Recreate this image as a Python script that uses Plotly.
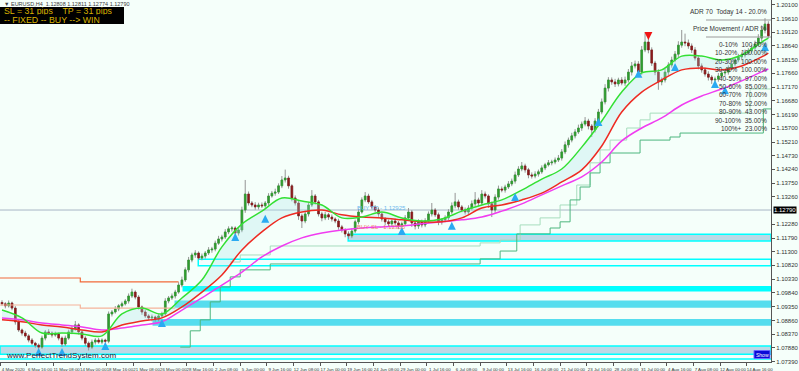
import plotly.graph_objects as go

# ---------------- data ----------------
candle_close = [
    1.0945, 1.0938, 1.0948, 1.0930, 1.0881, 1.0852, 1.0841, 1.0831, 1.0816, 1.0805,
    1.0798, 1.0791, 1.0823, 1.0845, 1.0841, 1.0834, 1.0838, 1.0823, 1.0802, 1.0823,
    1.0845, 1.0856, 1.0870, 1.0845, 1.0823, 1.0805, 1.0791, 1.0809, 1.0816, 1.0809,
    1.0816, 1.0812, 1.0909, 1.0916, 1.0927, 1.0938, 1.0945, 1.0955, 1.0973, 1.0987,
    1.0969, 1.0934, 1.0916, 1.0902, 1.0895, 1.0898, 1.0891, 1.0902, 1.0909, 1.0955,
    1.0966, 1.0973, 1.0987, 1.1012, 1.1030, 1.1066, 1.1101, 1.1119, 1.1126, 1.1108,
    1.1115, 1.1126, 1.1137, 1.1140, 1.1161, 1.1176, 1.1183, 1.1201, 1.1212, 1.1215,
    1.1197, 1.1208, 1.1279, 1.1336, 1.1304, 1.1297, 1.1290, 1.1297, 1.1294, 1.1304,
    1.1329, 1.1339, 1.1343, 1.1365, 1.1386, 1.1393, 1.1365, 1.1322, 1.1304, 1.1258,
    1.1240, 1.1265, 1.1297, 1.1329, 1.1308, 1.1265, 1.1251, 1.1262, 1.1254, 1.1247,
    1.1240, 1.1219, 1.1208, 1.1194, 1.1187, 1.1204, 1.1237, 1.1272, 1.1315, 1.1329,
    1.1308, 1.1290, 1.1279, 1.1265, 1.1247, 1.1237, 1.1230, 1.1240, 1.1233, 1.1222,
    1.1230, 1.1251, 1.1272, 1.1233, 1.1222, 1.1237, 1.1226, 1.1240, 1.1265, 1.1279,
    1.1262, 1.1237, 1.1244, 1.1251, 1.1272, 1.1294, 1.1308, 1.1290, 1.1279, 1.1272,
    1.1286, 1.1301, 1.1315, 1.1304, 1.1336, 1.1329, 1.1301, 1.1279, 1.1325, 1.1354,
    1.1350, 1.1361, 1.1372, 1.1382, 1.1404, 1.1425, 1.1436, 1.1422, 1.1404, 1.1400,
    1.1407, 1.1415, 1.1429, 1.1440, 1.1447, 1.1450, 1.1457, 1.1464, 1.1486, 1.1511,
    1.1528, 1.1543, 1.1557, 1.1571, 1.1585, 1.1596, 1.1578, 1.1564, 1.1596, 1.1628,
    1.1664, 1.1713, 1.1742, 1.1735, 1.1728, 1.1742, 1.1731, 1.1742, 1.1770, 1.1792,
    1.1799, 1.1770, 1.1849, 1.1877, 1.1849, 1.1802, 1.1770, 1.1735, 1.1742, 1.1770,
    1.1795, 1.1813, 1.1834, 1.1866, 1.1877, 1.1874, 1.1863, 1.1849, 1.1820, 1.1792,
    1.1778, 1.1763, 1.1752, 1.1742, 1.1745, 1.1756, 1.1767, 1.1770, 1.1785, 1.1799,
    1.1813, 1.1824, 1.1831, 1.1838, 1.1845, 1.1856, 1.1870, 1.1891, 1.1920, 1.1941,
    1.1899,
]
first_open = 1.0950
upper_wick_pips = [
    8, 6, 9, 5, 7, 6, 5, 8, 6, 7,
    5, 6, 9, 7, 10, 6, 8, 5, 6, 9,
    8, 10, 14, 6, 5, 7, 6, 9, 7, 8,
    6, 5, 9, 7, 10, 6, 8, 7, 9, 12,
    6, 7, 5, 8, 6, 9, 5, 7, 8, 10,
    7, 9, 8, 10, 12, 9, 11, 8, 10, 6,
    9, 7, 10, 8, 9, 11, 8, 10, 9, 7,
    6, 8, 12, 50, 9, 7, 10, 8, 9, 7,
    10, 8, 12, 9, 14, 30, 8, 6, 9, 7,
    8, 12, 9, 21, 7, 6, 8, 10, 7, 9,
    6, 8, 7, 6, 9, 10, 8, 12, 9, 14,
    8, 7, 6, 9, 5, 7, 8, 6, 9, 7,
    8, 10, 14, 7, 6, 9, 8, 10, 9, 25,
    7, 8, 6, 9, 10, 12, 32, 8, 7, 9,
    10, 12, 28, 8, 14, 9, 6, 8, 10, 12,
    9, 8, 10, 9, 12, 10, 14, 8, 7, 9,
    10, 8, 9, 7, 10, 8, 9, 11, 10, 12,
    9, 11, 10, 12, 9, 14, 8, 7, 10, 11,
    12, 14, 10, 9, 11, 8, 10, 12, 11, 14,
    12, 10, 14, 32, 12, 9, 8, 10, 9, 11,
    10, 12, 11, 14, 43, 30, 12, 9, 10, 8,
    9, 8, 10, 7, 9, 11, 8, 10, 9, 12,
    10, 11, 9, 12, 10, 11, 12, 14, 16, 21,
    10,
]
lower_wick_pips = [
    7, 9, 6, 8, 10, 7, 9, 6, 8, 7,
    9, 12, 6, 8, 7, 9, 6, 8, 10, 7,
    6, 8, 7, 9, 8, 10, 12, 7, 9, 6,
    8, 10, 7, 9, 6, 8, 7, 6, 9, 7,
    8, 9, 10, 7, 8, 12, 9, 8, 7, 6,
    8, 7, 9, 6, 8, 7, 9, 8, 10, 7,
    8, 9, 7, 10, 8, 6, 9, 7, 8, 10,
    12, 9, 8, 10, 9, 8, 10, 9, 8, 7,
    8, 6, 9, 7, 8, 9, 10, 12, 9, 14,
    25, 8, 9, 7, 10, 9, 12, 8, 10, 9,
    8, 10, 9, 12, 11, 8, 7, 9, 6, 8,
    7, 9, 8, 10, 9, 12, 10, 8, 9, 11,
    12, 8, 9, 14, 12, 10, 9, 8, 7, 9,
    8, 12, 10, 9, 8, 7, 9, 10, 8, 9,
    10, 8, 9, 12, 10, 9, 14, 25, 10, 9,
    8, 9, 7, 8, 9, 7, 8, 10, 12, 9,
    8, 9, 7, 8, 6, 9, 8, 7, 9, 8,
    10, 8, 9, 7, 10, 8, 12, 25, 9, 10,
    8, 9, 12, 10, 11, 9, 8, 10, 9, 12,
    9, 14, 10, 8, 12, 10, 11, 28, 12, 9,
    10, 9, 8, 10, 9, 12, 10, 11, 9, 12,
    10, 9, 12, 14, 10, 9, 8, 10, 9, 8,
    9, 8, 10, 9, 8, 10, 9, 8, 10, 12,
    8,
]

ma_index = [0, 6, 12, 18, 24, 30, 36, 42, 48, 54, 60, 66, 72, 78, 84, 90, 96, 102, 108, 114,
            120, 126, 132, 138, 144, 150, 156, 162, 168, 174, 180, 186, 192, 198, 204, 210,
            216, 222, 228, 230]
ma_fast_green = [1.0923, 1.0895, 1.0841, 1.0841, 1.0838, 1.0831, 1.0909, 1.0930, 1.0909, 1.0966,
                 1.1030, 1.1148, 1.1229, 1.1275, 1.1322, 1.1311, 1.1297, 1.1251, 1.1254, 1.1272,
                 1.1251, 1.1240, 1.1247, 1.1275, 1.1297, 1.1315, 1.1350, 1.1389, 1.1425, 1.1503,
                 1.1596, 1.1699, 1.1767, 1.1778, 1.1827, 1.1827, 1.1813, 1.1831, 1.1877, 1.1891]
ma_mid_red = [1.0888, 1.0881, 1.0870, 1.0863, 1.0852, 1.0845, 1.0870, 1.0884, 1.0895, 1.0934,
              1.0987, 1.1048, 1.1137, 1.1201, 1.1251, 1.1272, 1.1279, 1.1262, 1.1254, 1.1251,
              1.1244, 1.1237, 1.1237, 1.1251, 1.1286, 1.1297, 1.1315, 1.1339, 1.1379, 1.1422,
              1.1507, 1.1628, 1.1699, 1.1742, 1.1778, 1.1785, 1.1778, 1.1792, 1.1824, 1.1838]
ma_slow_magenta = [1.0895, 1.0888, 1.0877, 1.0870, 1.0863, 1.0852, 1.0859, 1.0870, 1.0881, 1.0923,
                   1.0966, 1.1012, 1.1058, 1.1112, 1.1151, 1.1180, 1.1197, 1.1208, 1.1215, 1.1219,
                   1.1222, 1.1230, 1.1237, 1.1244, 1.1254, 1.1275, 1.1301, 1.1333, 1.1365, 1.1397,
                   1.1450, 1.1525, 1.1571, 1.1607, 1.1653, 1.1685, 1.1710, 1.1739, 1.1771, 1.1781]

step_dark_index = [53.5, 56.5, 59.5, 62.5, 65.5, 68.5, 71.5, 80.5, 143.5, 149.5, 154.5, 164.5,
                   167.5, 170.5, 173.5, 176.5, 179.5, 182.5, 191.5, 200.5, 203.5, 228.5, 230.8]
step_dark_price = [1.0791, 1.0849, 1.0888, 1.0952, 1.1005, 1.1041, 1.1066, 1.1087, 1.1105, 1.1133,
                   1.1194, 1.1215, 1.1237, 1.1315, 1.1361, 1.1411, 1.1447, 1.1482, 1.1528, 1.1539,
                   1.1553, 1.1639, 1.1639]
step_light_index = [68.5, 71.5, 80.5, 143.5, 149.5, 155.5, 161.5, 167.5, 172.5, 176.5, 179.5,
                    182.5, 187.5, 191.5, 194.5, 224.5, 230.8]
step_light_price = [1.1094, 1.1119, 1.1151, 1.1162, 1.1172, 1.1226, 1.1251, 1.1297, 1.1368, 1.1447,
                    1.1493, 1.1528, 1.1571, 1.1600, 1.1624, 1.1710, 1.1710]

orange_index = [-0.6, 23.5, 53.0]
orange_price = [1.1037, 1.1023, 1.1023]
salmon_index = [-0.6, 23.5, 52.0]
salmon_price = [1.0941, 1.0930, 1.0930]

zone_start_index = [103.9, 58.9, 54.4, 52.0, 45.4, -0.6]
zone_top = [1.11926, 1.11036, 1.10060, 1.09541, 1.08886, 1.07949]
zone_bottom = [1.11687, 1.10808, 1.09918, 1.09338, 1.08697, 1.07654]
zone_fill = ["#BCD9E6", "#F2FEFD", "#00FFFF", "#55DDEE", "#55DDEE", "#BCD9E6"]
zone_border = ["#00FFFF", "#00FFFF", "#00FFFF", "#55DDEE", "#55DDEE", "#00FFFF"]
extra_level = 1.07489
bid_price = 1.12790

buy_arrow_index = [11, 18, 31, 48, 70, 79, 120, 135, 154, 179, 191, 202, 214, 217, 229]
buy_arrow_price = [1.0788, 1.0788, 1.0809, 1.0891, 1.1197, 1.1262, 1.1219, 1.1237, 1.1340,
                   1.1607, 1.1778, 1.1802, 1.1742, 1.1720, 1.1874]
sell_arrow_index = [194]
sell_arrow_price = [1.1884]

date_labels = ["4 May 2020", "6 May 16:00", "11 May 08:00", "14 May 00:00", "18 May 16:00",
               "21 May 08:00", "26 May 00:00", "28 May 16:00", "2 Jun 08:00", "5 Jun 00:00",
               "9 Jun 16:00", "12 Jun 08:00", "17 Jun 00:00", "19 Jun 16:00", "24 Jun 08:00",
               "29 Jun 00:00", "1 Jul 16:00", "6 Jul 08:00", "9 Jul 00:00", "13 Jul 16:00",
               "16 Jul 08:00", "21 Jul 00:00", "23 Jul 16:00", "28 Jul 08:00", "31 Jul 00:00",
               "4 Aug 16:00", "7 Aug 08:00", "12 Aug 00:00", "14 Aug 16:00", "19 Aug 08:00"]
price_ticks = [1.20100, 1.19610, 1.19120, 1.18640, 1.18150, 1.17660, 1.17170, 1.16680, 1.16190,
               1.15700, 1.15210, 1.14730, 1.14240, 1.13750, 1.13260, 1.12280, 1.11790, 1.11300,
               1.10820, 1.10330, 1.09840, 1.09350, 1.08860, 1.08370, 1.07880, 1.07390]

adr_rows = ["0-10%  100.00%", "10-20%  100.00%", "20-30%  100.00%", "30-40%  100.00%",
            "40-50%  97.00%", "50-60%  85.00%", "60-70%  70.00%", "70-80%  52.00%",
            "80-90%  43.00%", "90-100%  35.00%", "100%+  23.00%"]

# ---------------- figure ----------------
BG = "#F5FFFA"
FONT = "Liberation Sans, Arial, sans-serif"
W, H = 799, 371
ML, MR, MT, MB = 0, 28, 0, 9
PW, PH = W - ML - MR, H - MT - MB
X_RANGE = [-0.6, 230.8]
Y_RANGE = [1.07380, 1.20267]
DATE_FONT = dict(family=FONT, size=4.4, color="#333333")


def px_x(px):
    return px / PW


def px_y(py):
    return 1 - py / PH


n = len(candle_close)
idx = list(range(n))
opens = [first_open] + candle_close[:-1]
highs = [max(o, c) + u / 10000 for o, c, u in zip(opens, candle_close, upper_wick_pips)]
lows = [min(o, c) - l / 10000 for o, c, l in zip(opens, candle_close, lower_wick_pips)]
body_hi = [max(o, c) for o, c in zip(opens, candle_close)]
body_lo = [min(o, c) for o, c in zip(opens, candle_close)]

fig = go.Figure()

# resistance / support lines
fig.add_trace(go.Scatter(x=orange_index, y=orange_price, mode="lines", line_shape="hv",
                         line=dict(color="#F26B3A", width=1.2), hoverinfo="skip"))
fig.add_trace(go.Scatter(x=salmon_index, y=salmon_price, mode="lines", line_shape="hv",
                         line=dict(color="#F5B49A", width=1.2), hoverinfo="skip"))
fig.add_trace(go.Scatter(x=step_light_index, y=step_light_price, mode="lines", line_shape="hv",
                         line=dict(color="#A6DDBD", width=1), hoverinfo="skip"))
fig.add_trace(go.Scatter(x=step_dark_index, y=step_dark_price, mode="lines", line_shape="hv",
                         line=dict(color="#4DB67E", width=1), hoverinfo="skip"))

# ribbon between fast and mid averages
fig.add_trace(go.Scatter(x=ma_index, y=ma_mid_red, mode="lines", line_shape="spline",
                         line=dict(width=0, color="rgba(0,0,0,0)"), hoverinfo="skip"))
fig.add_trace(go.Scatter(x=ma_index, y=ma_fast_green, mode="lines", line_shape="spline",
                         line=dict(width=0, color="rgba(0,0,0,0)"), fill="tonexty",
                         fillcolor="rgba(165,225,232,0.28)", hoverinfo="skip"))

# candles: grey wicks then coloured bodies
fig.add_trace(go.Candlestick(x=idx, open=opens, high=highs, low=lows, close=candle_close,
                             increasing=dict(line=dict(color="#959595", width=1), fillcolor="#959595"),
                             decreasing=dict(line=dict(color="#959595", width=1), fillcolor="#959595"),
                             whiskerwidth=0, hoverinfo="skip"))
fig.add_trace(go.Candlestick(x=idx, open=opens, high=body_hi, low=body_lo, close=candle_close,
                             increasing=dict(line=dict(color="#2E9E2E", width=0.6), fillcolor="#2E9E2E"),
                             decreasing=dict(line=dict(color="#8B1A1A", width=0.6), fillcolor="#8B1A1A"),
                             whiskerwidth=0, hoverinfo="skip"))

# moving averages
fig.add_trace(go.Scatter(x=ma_index, y=ma_slow_magenta, mode="lines", line_shape="spline",
                         line=dict(color="#F03CF0", width=1.5), hoverinfo="skip"))
fig.add_trace(go.Scatter(x=ma_index, y=ma_mid_red, mode="lines", line_shape="spline",
                         line=dict(color="#EE2A22", width=1.5), hoverinfo="skip"))
fig.add_trace(go.Scatter(x=ma_index, y=ma_fast_green, mode="lines", line_shape="spline",
                         line=dict(color="#33E033", width=1.5), hoverinfo="skip"))

# signal arrows
fig.add_trace(go.Scatter(x=buy_arrow_index, y=buy_arrow_price, mode="markers",
                         marker=dict(symbol="arrow-up", size=8, color="#2AAAF2",
                                     line=dict(width=0)), hoverinfo="skip"))
fig.add_trace(go.Scatter(x=sell_arrow_index, y=sell_arrow_price, mode="markers",
                         marker=dict(symbol="arrow-down", size=8, color="#F01414",
                                     line=dict(width=0)), hoverinfo="skip"))

# zones
shapes = []
for s, t, b, fc, bc in zip(zone_start_index, zone_top, zone_bottom, zone_fill, zone_border):
    shapes.append(dict(type="rect", xref="x", yref="y", x0=s, x1=X_RANGE[1], y0=b, y1=t,
                       fillcolor=fc, line=dict(color=bc, width=1.5), layer="below"))
shapes.append(dict(type="line", xref="paper", yref="y", x0=0, x1=1, y0=extra_level, y1=extra_level,
                   line=dict(color="#00FFFF", width=1.5), layer="below"))
shapes.append(dict(type="line", xref="paper", yref="y", x0=0, x1=1, y0=bid_price, y1=bid_price,
                   line=dict(color="#A9B6C6", width=1), layer="below"))
# info box top-left
shapes.append(dict(type="rect", xref="paper", yref="paper", x0=px_x(0), x1=px_x(124),
                   y0=px_y(24), y1=px_y(7), fillcolor="#000000", line=dict(width=0)))
# ADR separators
for py in (20, 37):
    shapes.append(dict(type="line", xref="paper", yref="paper", x0=px_x(706), x1=px_x(771),
                       y0=px_y(py), y1=px_y(py), line=dict(color="#9A9A9A", width=1)))
# Show button
shapes.append(dict(type="rect", xref="paper", yref="paper", x0=px_x(754), x1=px_x(770),
                   y0=px_y(358.5), y1=px_y(350.5), fillcolor="#0A0AD8",
                   line=dict(color="#6A6AFF", width=1)))

ann = []
ann.append(dict(xref="paper", yref="paper", x=px_x(2), y=px_y(3.5), xanchor="left", yanchor="middle",
                text="▼ EURUSD,H4  1.12808 1.12811 1.12774 1.12790", showarrow=False,
                font=dict(family=FONT, size=5.5, color="#404040")))
ann.append(dict(xref="paper", yref="paper", x=px_x(3), y=px_y(11.0), xanchor="left", yanchor="middle",
                text="SL = 31 pips    TP = 31 pips", showarrow=False, height=7.5, borderpad=0,
                font=dict(family=FONT, size=8.8, color="#D9B200")))
ann.append(dict(xref="paper", yref="paper", x=px_x(3), y=px_y(19.8), xanchor="left", yanchor="middle",
                text="-- FIXED -- BUY --> WIN", showarrow=False, height=7.5, borderpad=0,
                font=dict(family=FONT, size=8.8, color="#D9B200")))
ann.append(dict(xref="paper", yref="paper", x=px_x(769), y=px_y(12), xanchor="right", yanchor="middle",
                text="ADR 70  Today 14 - 20.0%", showarrow=False,
                font=dict(family=FONT, size=6.5, color="#333333")))
ann.append(dict(xref="paper", yref="paper", x=px_x(769), y=px_y(29), xanchor="right", yanchor="middle",
                text="Price Movement / ADR %", showarrow=False,
                font=dict(family=FONT, size=6.5, color="#333333")))
for k, row in enumerate(adr_rows):
    ann.append(dict(xref="paper", yref="paper", x=px_x(769), y=px_y(44.5 + 8.4 * k),
                    xanchor="right", yanchor="middle", text=row, showarrow=False,
                    font=dict(family=FONT, size=6.5, color="#333333")))
ann.append(dict(xref="x", yref="y", x=105.8, y=1.1286, xanchor="left", yanchor="middle",
                text="BUY TP - 1.12925", showarrow=False,
                font=dict(family=FONT, size=6, color="#6CB8EE")))
ann.append(dict(xref="x", yref="y", x=105.8, y=1.1219, xanchor="left", yanchor="middle",
                text="BUY SL - 1.12305", showarrow=False,
                font=dict(family=FONT, size=6, color="#F08070")))
ann.append(dict(xref="paper", yref="paper", x=px_x(4), y=px_y(355), xanchor="left", yanchor="middle",
                text="www.PerfectTrendSystem.com", showarrow=False,
                font=dict(family=FONT, size=8, color="#181838")))
ann.append(dict(xref="paper", yref="paper", x=px_x(762), y=px_y(354.5), xanchor="center",
                yanchor="middle", text="Show", showarrow=False,
                font=dict(family=FONT, size=5, color="#FFFFFF")))
ann.append(dict(xref="paper", yref="y", x=1, y=bid_price, xanchor="left", yanchor="middle", xshift=2,
                text="1.12790", showarrow=False, bgcolor="#000000", borderpad=0,
                font=dict(family=FONT, size=6, color="#FFFFFF")))
ann.append(dict(xref="x", yref="paper", x=29 * 8 - 0.5, y=px_y(366.5), xanchor="left",
                yanchor="middle", text=date_labels[-1], showarrow=False, borderpad=0,
                font=DATE_FONT))

tick_x = [8 * k - 0.5 for k in range(len(date_labels))]

fig.update_layout(
    width=W, height=H, margin=dict(l=ML, r=MR, t=MT, b=MB),
    paper_bgcolor=BG, plot_bgcolor=BG, showlegend=False, hovermode=False,
    shapes=shapes, annotations=ann,
    xaxis=dict(range=X_RANGE, tickmode="array", tickvals=tick_x, ticktext=date_labels,
               tickangle=0, ticks="outside", ticklen=3, tickcolor="#555555", showline=True,
               linecolor="#555555", linewidth=1, showgrid=False, zeroline=False,
               rangeslider=dict(visible=False), ticklabelshift=13, ticklabelstandoff=0,
               tickfont=DATE_FONT),
    yaxis=dict(range=Y_RANGE, side="right", tickmode="array", tickvals=price_ticks,
               ticktext=[f"{v:.5f}" for v in price_ticks], ticks="outside", ticklen=3,
               tickcolor="#555555", showline=True, linecolor="#555555", linewidth=1,
               showgrid=False, zeroline=False,
               tickfont=dict(family=FONT, size=6, color="#333333")),
)

fig.write_html("out.html")
